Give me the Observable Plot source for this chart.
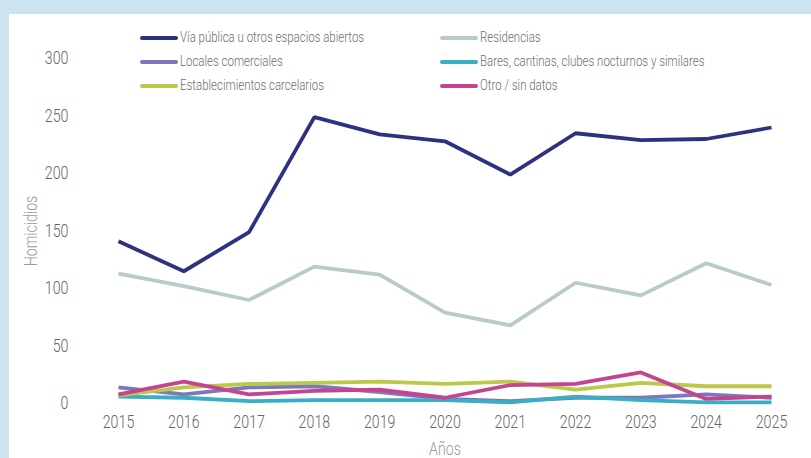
<!DOCTYPE html>
<html>
<head>
<meta charset="utf-8">
<script src="https://cdn.jsdelivr.net/npm/d3@7"></script>
<script src="https://cdn.jsdelivr.net/npm/@observablehq/plot@0.6"></script>
<style>
  html, body { margin: 0; padding: 0; }
  body { width: 811px; height: 458px; background: #cde4f0; position: relative; overflow: hidden;
         font-family: Roboto, sans-serif; font-weight: 300; }
  #panel { position: absolute; left: 9px; top: 14px; width: 802px; height: 444px; background: #fff; }
  #legend { position: absolute; left: 140px; top: 14px; width: 640px; }
  .item { position: absolute; display: flex; align-items: center; font-size: 14.5px; color: #6e6e6e; white-space: nowrap; }
  .sw { width: 38px; height: 4px; border-radius: 2px; margin-right: 2px; flex: none; }
  .tx { display: inline-block; transform: scaleX(0.79); transform-origin: left center; }
</style>
</head>
<body>
<div id="panel"></div>
<script>
const years = [2015, 2016, 2017, 2018, 2019, 2020, 2021, 2022, 2023, 2024, 2025];
const seriesNames = [
  "Vía pública u otros espacios abiertos",
  "Residencias",
  "Locales comerciales",
  "Bares, cantinas, clubes nocturnos y similares",
  "Establecimientos carcelarios",
  "Otro / sin datos"
];
const viaPublica       = [141, 115, 149, 249, 234, 228, 199, 235, 229, 230, 240];
const residencias      = [113, 102,  90, 119, 112,  79,  68, 105,  94, 122, 103];
const locales          = [ 14,   8,  14,  15,  10,   4,   2,   5,   5,   8,   5];
const bares            = [  6,   5,   2,   3,   3,   3,   1,   6,   3,   1,   1];
const establecimientos = [  7,  14,  17,  18,  19,  17,  19,  12,  18,  15,  15];
const otro             = [  8,  19,   8,  11,  12,   5,  16,  17,  27,   4,   6];
const colors = ["#2e3180", "#b8cbc8", "#7b79b9", "#3aafc4", "#bdc84b", "#c4448f"];
const yTicks = [0, 50, 100, 150, 200, 250, 300];

const valueArrays = [viaPublica, residencias, locales, bares, establecimientos, otro];
const data = [];
seriesNames.forEach((s, i) => years.forEach((y, j) => data.push({serie: s, year: y, value: valueArrays[i][j]})));

const chart = Plot.plot({
  width: 802,
  height: 444,
  marginLeft: 109,
  marginRight: 40,
  marginTop: 44,
  marginBottom: 55,
  style: {fontFamily: "Roboto, sans-serif", fontWeight: 300, fontSize: "18px", color: "#666", background: "transparent"},
  x: {domain: [2015, 2025]},
  y: {domain: [0, 300]},
  color: {domain: seriesNames, range: colors},
  marks: [
    Plot.axisX({ticks: years, tickFormat: "d", tickSize: 0, tickPadding: 12, fontSize: 18,
                label: "Años", labelAnchor: "center", labelArrow: "none", labelOffset: 51}),
    Plot.axisY({ticks: yTicks, tickSize: 0, tickPadding: 50, fontSize: 18,
                label: "Homicidios", labelAnchor: "center", labelArrow: "none", labelOffset: 94}),
    Plot.line(data, {x: "year", y: "value", z: "serie", stroke: "serie", strokeWidth: 3.8,
                     strokeLinejoin: "miter", strokeLinecap: "butt"})
  ]
});
// condensed look: squeeze glyphs horizontally around each label's own anchor
chart.querySelectorAll("[aria-label='x-axis tick label'] text, [aria-label='y-axis tick label'] text, [aria-label='x-axis label'] text, [aria-label='y-axis label'] text")
  .forEach(t => t.setAttribute("transform", (t.getAttribute("transform") || "") + " scale(0.79,1)"));
chart.querySelectorAll("[aria-label='x-axis label'] text, [aria-label='y-axis label'] text")
  .forEach(t => { t.setAttribute("font-size", 18); t.setAttribute("fill", "#999"); });
document.getElementById("panel").appendChild(chart);

const legend = document.createElement("div");
legend.id = "legend";
const cols = [0, 300];
const rows = [15, 39, 63];
seriesNames.forEach((s, i) => {
  const it = document.createElement("div");
  it.className = "item";
  it.style.left = cols[i % 2] + "px";
  it.style.top = rows[Math.floor(i / 2)] + "px";
  const sw = document.createElement("div");
  sw.className = "sw";
  sw.style.background = colors[i];
  const tx = document.createElement("span");
  tx.className = "tx";
  tx.textContent = s;
  it.appendChild(sw);
  it.appendChild(tx);
  legend.appendChild(it);
});
document.body.appendChild(legend);
</script>
</body>
</html>
